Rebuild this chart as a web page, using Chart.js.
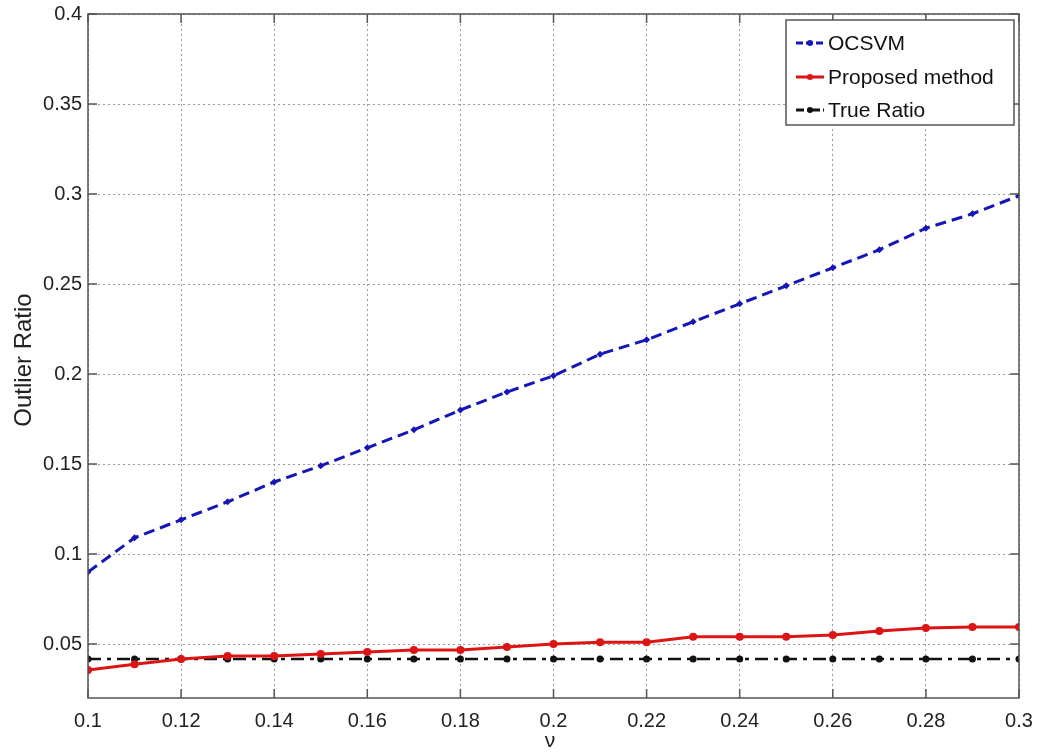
<!DOCTYPE html>
<html>
<head>
<meta charset="utf-8">
<script src="https://cdn.jsdelivr.net/npm/chart.js@4/dist/chart.umd.min.js"></script>
<style>
    html, body { margin: 0; padding: 0; background: #fff; }
    #wrap { width: 1041px; height: 753px; }
</style>
</head>
<body>
<div id="wrap"><canvas id="chart" width="1041" height="753"></canvas></div>
<script>
const nu = [0.1, 0.11, 0.12, 0.13, 0.14, 0.15, 0.16, 0.17, 0.18, 0.19, 0.2,
    0.21, 0.22, 0.23, 0.24, 0.25, 0.26, 0.27, 0.28, 0.29, 0.3];
const ocsvm = [0.09, 0.109, 0.119, 0.129, 0.14, 0.149, 0.159, 0.169, 0.18, 0.19, 0.199,
    0.211, 0.219, 0.229, 0.239, 0.249, 0.259, 0.269, 0.281, 0.289, 0.299];
const proposed = [0.0356, 0.0387, 0.0417, 0.0433, 0.0433, 0.0444, 0.0456, 0.0467, 0.0467, 0.0483, 0.05,
    0.051, 0.051, 0.054, 0.054, 0.054, 0.055, 0.0572, 0.0589, 0.0594, 0.0594];
const trueRatio = [0.0417, 0.0417, 0.0417, 0.0417, 0.0417, 0.0417, 0.0417, 0.0417, 0.0417, 0.0417, 0.0417,
    0.0417, 0.0417, 0.0417, 0.0417, 0.0417, 0.0417, 0.0417, 0.0417, 0.0417, 0.0417];
const xTicks = [0.1, 0.12, 0.14, 0.16, 0.18, 0.2, 0.22, 0.24, 0.26, 0.28, 0.3];
const yTicks = [0.05, 0.1, 0.15, 0.2, 0.25, 0.3, 0.35, 0.4];

const FONT = "'Liberation Sans', Arial, sans-serif";

function pts(ys) {
    return nu.map((x, i) => ({x: x, y: ys[i]}));
}

function fmt(v) {
    return String(parseFloat(v.toFixed(3)));
}

// box, inward ticks, axis titles and legend drawn over the plot
const frame = {
    id: "frame",
    afterDatasetsDraw(chart) {
        const ctx = chart.ctx;
        const a = chart.chartArea;
        const xs = chart.scales.x;
        const ys = chart.scales.y;
        const tl = 9;
        ctx.save();
        ctx.strokeStyle = "#555";
        ctx.lineWidth = 1.5;
        ctx.setLineDash([]);
        ctx.strokeRect(a.left, a.top, a.right - a.left, a.bottom - a.top);
        ctx.beginPath();
        xTicks.forEach((t) => {
            const px = xs.getPixelForValue(t);
            ctx.moveTo(px, a.bottom);
            ctx.lineTo(px, a.bottom - tl);
            ctx.moveTo(px, a.top);
            ctx.lineTo(px, a.top + tl);
        });
        yTicks.forEach((t) => {
            const py = ys.getPixelForValue(t);
            ctx.moveTo(a.left, py);
            ctx.lineTo(a.left + tl, py);
            ctx.moveTo(a.right, py);
            ctx.lineTo(a.right - tl, py);
        });
        ctx.stroke();

        // axis titles
        ctx.fillStyle = "#222";
        ctx.textAlign = "center";
        ctx.textBaseline = "middle";
        ctx.font = "21px " + FONT;
        ctx.fillText("\u03bd", 550, 741);
        ctx.save();
        ctx.translate(24, 360);
        ctx.rotate(-Math.PI / 2);
        ctx.font = "24px " + FONT;
        ctx.fillText("Outlier Ratio", 0, 0);
        ctx.restore();

        // legend
        const lx = 786, ly = 20, lw = 228, lh = 105;
        ctx.fillStyle = "#fff";
        ctx.fillRect(lx, ly, lw, lh);
        ctx.strokeStyle = "#555";
        ctx.lineWidth = 1.5;
        ctx.strokeRect(lx, ly, lw, lh);
        const rows = [43, 77, 110];
        chart.data.datasets.forEach((ds, i) => {
            const y = rows[i];
            ctx.strokeStyle = ds.borderColor;
            ctx.lineWidth = 3;
            ctx.setLineDash(ds.legendDash);
            ctx.beginPath();
            ctx.moveTo(796, y);
            ctx.lineTo(824, y);
            ctx.stroke();
            ctx.setLineDash([]);
            ctx.fillStyle = ds.borderColor;
            ctx.beginPath();
            ctx.arc(810, y, 3, 0, Math.PI * 2);
            ctx.fill();
            ctx.fillStyle = "#111";
            ctx.font = "21px " + FONT;
            ctx.textAlign = "left";
            ctx.textBaseline = "middle";
            ctx.fillText(ds.label, 828, y + 1);
        });
        ctx.restore();
    },
};

const chart = new Chart(document.getElementById("chart"), {
    type: "line",
    data: {
        datasets: [
            {
                label: "OCSVM",
                data: pts(ocsvm),
                borderColor: "#1515b8",
                backgroundColor: "#1515b8",
                borderWidth: 3,
                borderDash: [11, 6],
                legendDash: [7, 3],
                pointStyle: "rectRot",
                pointRadius: 3.5,
                pointBorderWidth: 0,
            },
            {
                label: "Proposed method",
                data: pts(proposed),
                borderColor: "#dc1414",
                backgroundColor: "#dc1414",
                borderWidth: 3,
                borderDash: [],
                legendDash: [],
                pointRadius: 4,
                pointBorderWidth: 0,
            },
            {
                label: "True Ratio",
                data: pts(trueRatio),
                borderColor: "#111",
                backgroundColor: "#111",
                borderWidth: 2.5,
                borderDash: [13, 6, 4, 6],
                legendDash: [8, 3, 2, 3],
                pointRadius: 3.5,
                pointBorderWidth: 0,
            },
        ],
    },
    options: {
        responsive: false,
        animation: false,
        layout: {
            padding: {top: 14, right: 22, left: 0, bottom: 0},
        },
        plugins: {
            legend: {display: false},
            tooltip: {enabled: false},
        },
        elements: {
            line: {tension: 0},
        },
        scales: {
            x: {
                type: "linear",
                min: 0.1,
                max: 0.3,
                afterBuildTicks: (s) => {
                    s.ticks = xTicks.map((v) => ({value: v}));
                },
                afterFit: (s) => {
                    s.height = 55;
                    s.paddingLeft = 0;
                    s.paddingRight = 0;
                },
                ticks: {
                    padding: 11,
                    color: "#222",
                    font: {family: FONT, size: 20},
                    maxRotation: 0,
                    autoSkip: false,
                    callback: (v) => fmt(v),
                },
                grid: {
                    color: "#9a9a9a",
                    lineWidth: 1,
                    drawTicks: false,
                },
                border: {display: false, dash: [2, 3]},
            },
            y: {
                type: "linear",
                min: 0.02,
                max: 0.4,
                afterBuildTicks: (s) => {
                    s.ticks = yTicks.map((v) => ({value: v}));
                },
                afterFit: (s) => {
                    s.width = 88;
                    s.paddingTop = 0;
                    s.paddingBottom = 0;
                },
                ticks: {
                    padding: 6,
                    color: "#222",
                    font: {family: FONT, size: 20},
                    autoSkip: false,
                    callback: (v) => fmt(v),
                },
                grid: {
                    color: "#9a9a9a",
                    lineWidth: 1,
                    drawTicks: false,
                },
                border: {display: false, dash: [2, 3]},
            },
        },
    },
    plugins: [frame],
});
</script>
</body>
</html>
